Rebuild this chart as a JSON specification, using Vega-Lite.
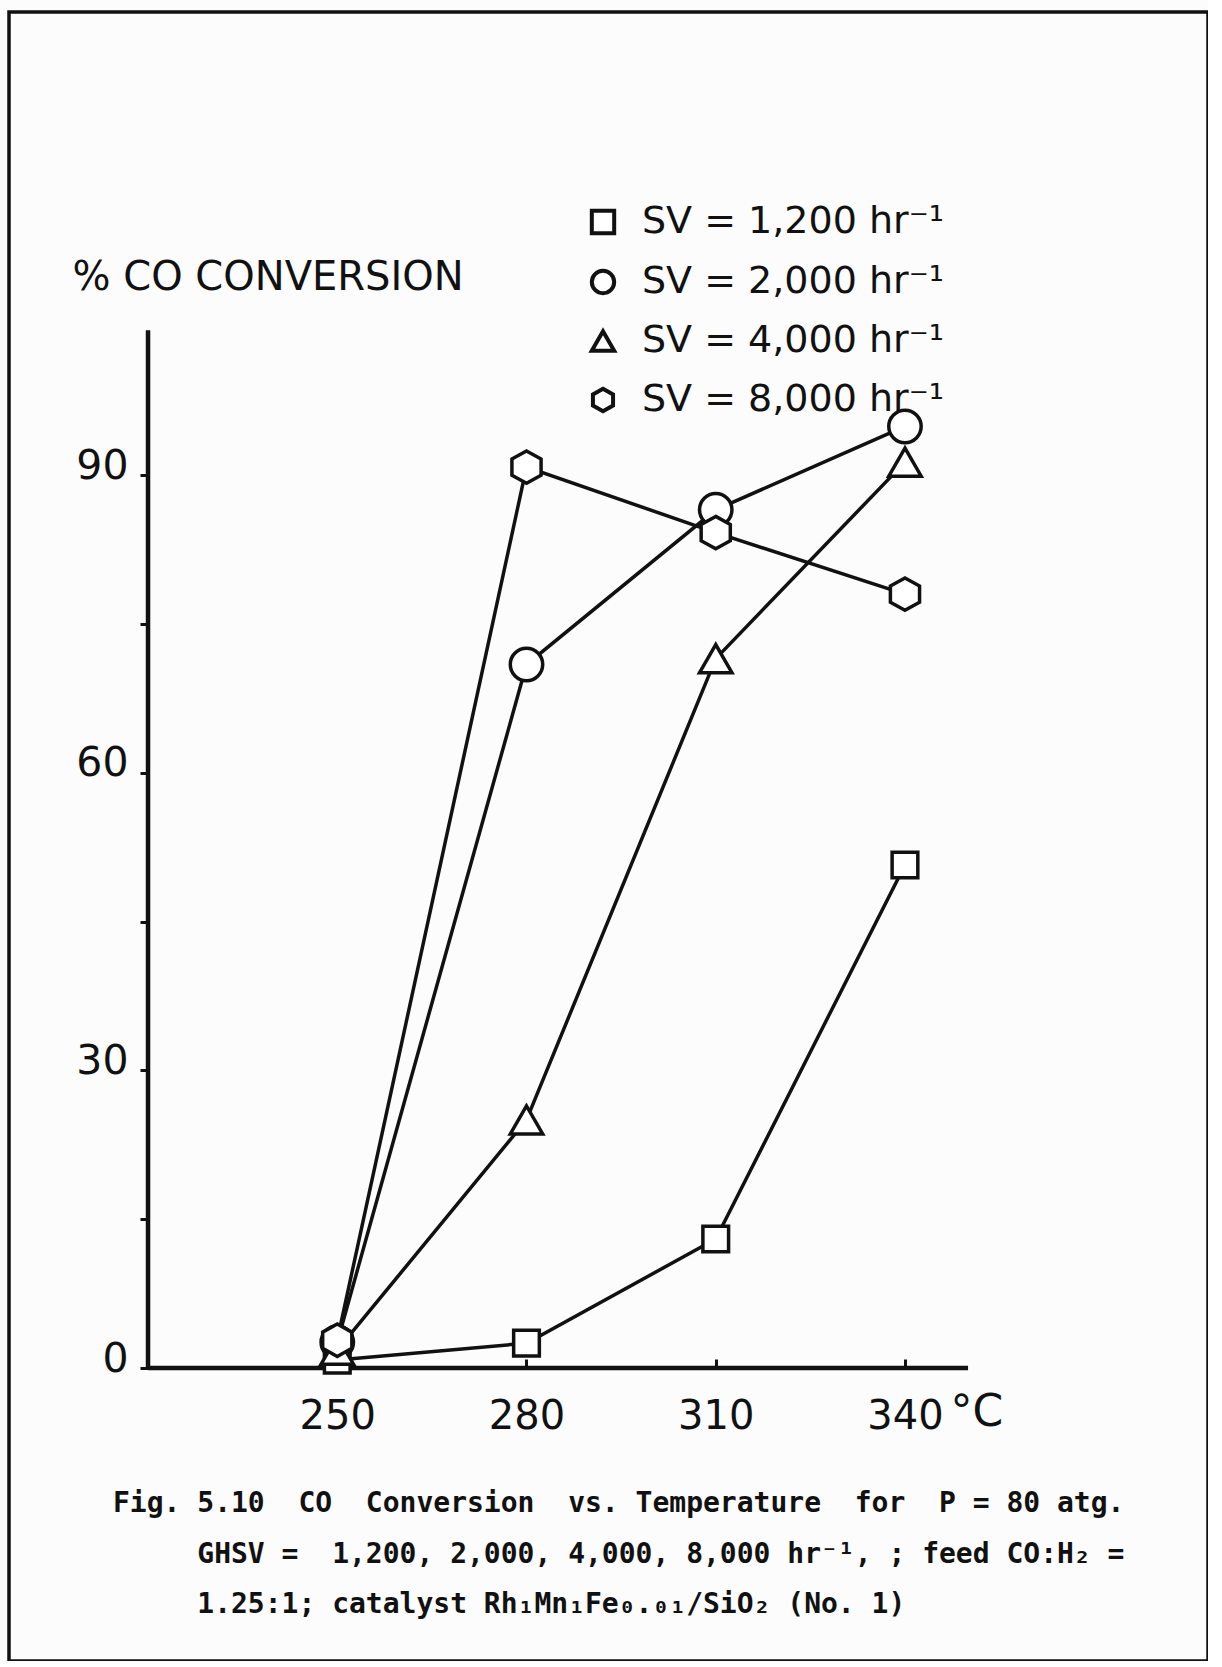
{
  "$schema": "https://vega.github.io/schema/vega-lite/v6.json",
  "width": 1199,
  "height": 1649,
  "autosize": {"type": "none"},
  "padding": {"left": 9, "top": 12, "right": 0, "bottom": 0},
  "background": "#fcfcfc",
  "title": {
    "text": [
      "Fig.\u00a05.10\u00a0\u00a0CO\u00a0\u00a0Conversion\u00a0\u00a0vs.\u00a0Temperature\u00a0\u00a0for\u00a0\u00a0P\u00a0=\u00a080\u00a0atg.",
      "\u200b\u00a0\u00a0\u00a0\u00a0\u00a0GHSV\u00a0=\u00a0\u00a01,200,\u00a02,000,\u00a04,000,\u00a08,000\u00a0hr⁻¹,\u00a0;\u00a0feed\u00a0CO:H₂\u00a0=",
      "\u200b\u00a0\u00a0\u00a0\u00a0\u00a01.25:1;\u00a0catalyst\u00a0Rh₁Mn₁Fe₀.₀₁/SiO₂\u00a0(No.\u00a01)"
    ],
    "orient": "bottom",
    "anchor": "start",
    "frame": "group",
    "offset": -171,
    "dx": 104,
    "align": "left",
    "baseline": "top",
    "font": "DejaVu Sans Mono",
    "fontSize": 28,
    "fontWeight": "bold",
    "lineHeight": 50.5,
    "color": "#111111"
  },
  "config": {
    "view": {"stroke": "#111111", "strokeWidth": 3.5},
    "axis": {
      "labelFont": "DejaVu Sans",
      "titleFont": "DejaVu Sans",
      "labelColor": "#111111",
      "titleColor": "#111111",
      "tickColor": "#111111",
      "titleFontWeight": "normal",
      "grid": false,
      "domain": false,
      "labelFlush": false,
      "labelOverlap": false
    },
    "legend": {
      "title": null,
      "orient": "none",
      "legendX": 575,
      "legendY": 191,
      "padding": 0,
      "symbolSize": 500,
      "symbolStrokeWidth": 4,
      "symbolFillColor": "#ffffff",
      "labelFont": "DejaVu Sans",
      "labelFontSize": 38,
      "labelColor": "#111111",
      "labelOffset": 20,
      "labelLimit": 0,
      "rowPadding": 20
    }
  },
  "datasets": {
    "runs": [
      {"series": "SV = 1,200 hr⁻¹", "temp": 250, "conv": 0.8},
      {"series": "SV = 1,200 hr⁻¹", "temp": 280, "conv": 2.5},
      {"series": "SV = 1,200 hr⁻¹", "temp": 310, "conv": 13.0},
      {"series": "SV = 1,200 hr⁻¹", "temp": 340, "conv": 50.7},
      {"series": "SV = 2,000 hr⁻¹", "temp": 250, "conv": 2.6},
      {"series": "SV = 2,000 hr⁻¹", "temp": 280, "conv": 70.9},
      {"series": "SV = 2,000 hr⁻¹", "temp": 310, "conv": 86.5},
      {"series": "SV = 2,000 hr⁻¹", "temp": 340, "conv": 94.9},
      {"series": "SV = 4,000 hr⁻¹", "temp": 250, "conv": 1.8},
      {"series": "SV = 4,000 hr⁻¹", "temp": 280, "conv": 25.0},
      {"series": "SV = 4,000 hr⁻¹", "temp": 310, "conv": 71.5},
      {"series": "SV = 4,000 hr⁻¹", "temp": 340, "conv": 91.3},
      {"series": "SV = 8,000 hr⁻¹", "temp": 250, "conv": 2.8},
      {"series": "SV = 8,000 hr⁻¹", "temp": 280, "conv": 90.8},
      {"series": "SV = 8,000 hr⁻¹", "temp": 310, "conv": 84.2},
      {"series": "SV = 8,000 hr⁻¹", "temp": 340, "conv": 78.0}
    ],
    "axislines": [
      {"temp": 220, "temp2": 350, "conv": 0, "conv2": 0},
      {"temp": 220, "temp2": 220, "conv": 0, "conv2": 104.6}
    ]
  },
  "encoding": {
    "x": {
      "field": "temp",
      "type": "quantitative",
      "scale": {"domain": [197.96, 388.04], "nice": false, "zero": false},
      "axis": {
        "values": [250, 280, 310, 340],
        "offset": -293,
        "tickSize": -9,
        "tickWidth": 3,
        "labelPadding": 37,
        "labelFontSize": 40,
        "title": "°C",
        "titleFontSize": 44,
        "titleX": 941,
        "titleY": 44,
        "titleAlign": "left",
        "titleBaseline": "middle",
        "titleAngle": 0
      }
    },
    "y": {
      "field": "conv",
      "type": "quantitative",
      "scale": {"domain": [-29.53, 136.67], "nice": false, "zero": false},
      "axis": {
        "values": [0, 15, 30, 45, 60, 75, 90],
        "labelExpr": "datum.value % 30 === 0 ? datum.label : ''",
        "offset": -139,
        "tickSize": 8,
        "tickWidth": 3,
        "labelPadding": 12,
        "labelFontSize": 41,
        "labelBaseline": "middle",
        "labelOffset": -9,
        "title": "% CO CONVERSION",
        "titleFontSize": 40,
        "titleAngle": 0,
        "titleX": -76,
        "titleY": 265,
        "titleAlign": "left",
        "titleBaseline": "middle"
      }
    }
  },
  "layer": [
    {
      "data": {"name": "axislines"},
      "mark": {"type": "rule", "color": "#111111", "strokeWidth": 4.5},
      "encoding": {
        "x2": {"field": "temp2"},
        "y2": {"field": "conv2"}
      }
    },
    {
      "data": {"name": "runs"},
      "mark": {"type": "line", "color": "#111111", "strokeWidth": 3.5},
      "encoding": {
        "detail": {"field": "series", "type": "nominal"}
      }
    },
    {
      "data": {"name": "runs"},
      "mark": {"type": "point", "filled": false, "fill": "#ffffff", "strokeWidth": 3.5, "opacity": 1},
      "encoding": {
        "size": {
          "condition": {"test": "datum.series === 'SV = 1,200 hr⁻¹'", "value": 660},
          "value": 1050
        },
        "color": {
          "field": "series",
          "type": "nominal",
          "scale": {
            "domain": ["SV = 1,200 hr⁻¹", "SV = 2,000 hr⁻¹", "SV = 4,000 hr⁻¹", "SV = 8,000 hr⁻¹"],
            "range": ["#111111", "#111111", "#111111", "#111111"]
          }
        },
        "shape": {
          "field": "series",
          "type": "nominal",
          "scale": {
            "domain": ["SV = 1,200 hr⁻¹", "SV = 2,000 hr⁻¹", "SV = 4,000 hr⁻¹", "SV = 8,000 hr⁻¹"],
            "range": ["square", "circle", "triangle-up", "M0,-1L0.9,-0.5L0.9,0.5L0,1L-0.9,0.5L-0.9,-0.5Z"]
          }
        }
      }
    }
  ]
}
